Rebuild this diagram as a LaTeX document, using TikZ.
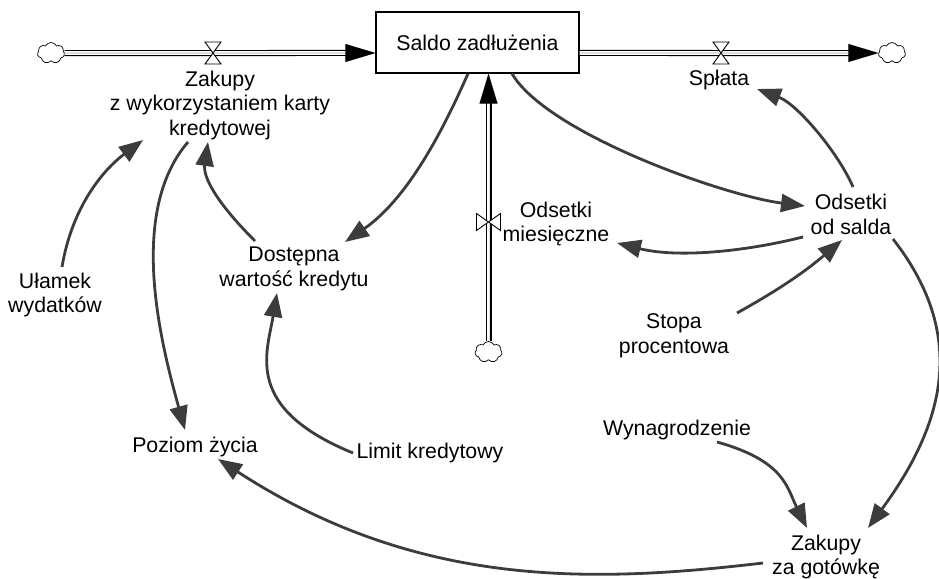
\documentclass[tikz,border=0pt]{standalone}
\usepackage{fontspec}
\setmainfont{Liberation Sans}
\usetikzlibrary{arrows.meta,shapes.symbols}
\definecolor{conn}{RGB}{60,60,60}
\begin{document}
\begin{tikzpicture}[x=1pt,y=-1pt,
  lbl/.style={font=\fontsize{21.3}{24.5}\selectfont, align=center, inner sep=2pt},
  stockbox/.style={draw, line width=1.2pt, minimum width=203pt, minimum height=61pt, inner sep=0pt, font=\fontsize{21.3}{24.5}\selectfont},
  link/.style={draw=conn, line width=2.8pt, -{Triangle[length=24pt,width=18pt]}},
  pipe/.style={line width=1.2pt, double=white, double distance=3.6pt, shorten >=26pt},
  pipehead/.style={line width=0.01pt, -{Triangle[length=30pt,width=18pt]}},
  valve/.style={draw, fill=white, line width=0.9pt, line join=miter},
  sink/.style={cloud, draw, cloud puffs=7, cloud puff arc=130, aspect=1.25, minimum width=27pt, minimum height=21pt, inner sep=0pt, line width=0.7pt}
]
\useasboundingbox (0,0) rectangle (939,578);

% stock and clouds
\node[stockbox] (saldo) at (477.5,42.5) {Saldo zadłużenia};
\node[sink] (cloudL) at (51,53) {};
\node[sink] (cloudR) at (892,53) {};
\node[sink] (cloudB) at (488.5,352) {};

% pipes
\draw[pipe] (cloudL) -- (cloudL -| saldo.west);
\draw[pipehead] (cloudL) -- (cloudL -| saldo.west);
\draw[pipe] (saldo.east |- cloudR) -- (cloudR);
\draw[pipehead] (saldo.east |- cloudR) -- (cloudR);
\draw[pipe] (cloudB) -- (cloudB |- saldo.south);
\draw[pipehead] (cloudB) -- (cloudB |- saldo.south);

% valves
\coordinate (v1) at (213,53);
\coordinate (v2) at (721,53);
\coordinate (v3) at (488.5,222);
\draw[valve] (v1) +(-8,-11) -- +(8,-11) -- +(-8,11) -- +(8,11) -- cycle;
\draw[valve] (v2) +(-8,-11) -- +(8,-11) -- +(-8,11) -- +(8,11) -- cycle;
\draw[valve] (v3) +(-12,-8.5) -- +(-12,8.5) -- +(12,-8.5) -- +(12,8.5) -- cycle;

% labels
\node[lbl] (zakK) at (220,105) {Zakupy\\z wykorzystaniem karty\\kredytowej};
\node[lbl] (splata) at (719,80) {Spłata};
\node[lbl] (odsMies) at (556,224) {Odsetki\\miesięczne};
\node[lbl] (odsSalda) at (851,214.5) {Odsetki\\od salda};
\node[lbl] (stopa) at (674,336) {Stopa\\procentowa};
\node[lbl] (wyn) at (677,430) {Wynagrodzenie};
\node[lbl] (zakG) at (826,557) {Zakupy\\za gotówkę};
\node[lbl] (ulamek) at (55,295) {Ułamek\\wydatków};
\node[lbl] (dost) at (294,269) {Dostępna\\wartość kredytu};
\node[lbl] (poziom) at (195,447) {Poziom życia};
\node[lbl] (limit) at (430,453) {Limit kredytowy};

% connectors
\draw[link] ([shift={(7,-28)}]ulamek.center) .. controls +(10,-60) and +(-40,30) .. ([shift={(-77,35)}]zakK.center);
\draw[link] ([shift={(-32,37)}]zakK.center) .. controls +(-60,70) and +(-25,-90) .. ([shift={(-10,-17)}]poziom.center);
\draw[link] ([shift={(-39,-28)}]dost.center) .. controls +(-39,-39) and +(-5,35) .. ([shift={(-12,37)}]zakK.center);
\draw[link] ([shift={(-9.5,0)}]saldo.south) .. controls +(-22,50) and +(65,-45) .. ([shift={(51,-27)}]dost.center);
\draw[link] ([shift={(34.5,0)}]saldo.south) .. controls +(35,60) and +(-80,-10) .. ([shift={(-46,-8.5)}]odsSalda.center);
\draw[link] ([shift={(2,-27.5)}]odsSalda.center) .. controls +(-15,-35) and +(40,15) .. ([shift={(38,9)}]splata.center);
\draw[link] ([shift={(-48,22.5)}]odsSalda.center) .. controls +(-60,15) and +(60,15) .. ([shift={(61,19)}]odsMies.center);
\draw[link] ([shift={(63,-23)}]stopa.center) .. controls +(45,-25) and +(-35,30) .. ([shift={(-9,25.5)}]odsSalda.center);
\draw[link] ([shift={(42,24.5)}]odsSalda.center) .. controls +(70,90) and +(83,-113) .. ([shift={(42,-29)}]zakG.center);
\draw[link] ([shift={(40,12)}]wyn.center) .. controls +(68,19) and +(-20,-40) .. ([shift={(-19,-29)}]zakG.center);
\draw[link] ([shift={(-63,6)}]zakG.center) .. controls +(-170,20) and +(200,130) .. ([shift={(23,12)}]poziom.center);
\draw[link] ([shift={(-77,0)}]limit.center) .. controls +(-110,-45) and +(-10,60) .. ([shift={(-17,24)}]dost.center);
\end{tikzpicture}
\end{document}
